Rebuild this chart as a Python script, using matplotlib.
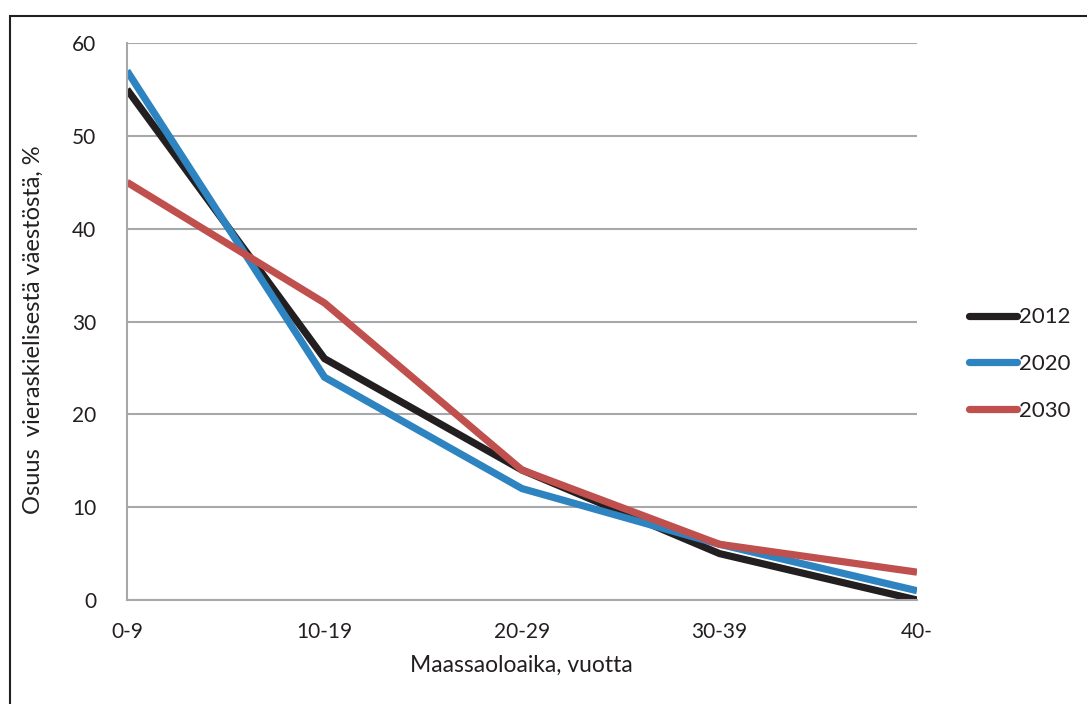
import matplotlib.pyplot as plt
from matplotlib.patches import Rectangle

# data
categories = ["0-9", "10-19", "20-29", "30-39", "40-"]
y2012 = [55, 26, 14, 5, 0]
y2020 = [57, 24, 12, 6, 1]
y2030 = [45, 32, 14, 6, 3]

plt.rcParams['font.family'] = ['Lato', 'DejaVu Sans']
txt = '#231f20'
grid = '#a6a8ab'

fig = plt.figure(figsize=(10.87, 7.04), dpi=100)
ax = fig.add_axes([127/1087, 1 - 600/704, 790/1087, 557/704])

x = list(range(len(categories)))
ax.plot(x, y2012, color='#231f20', lw=5.2, label='2012', solid_capstyle='butt', solid_joinstyle='miter')
ax.plot(x, y2020, color='#2e84c0', lw=5.2, label='2020', solid_capstyle='butt', solid_joinstyle='miter')
ax.plot(x, y2030, color='#c0504d', lw=5.2, label='2030', solid_capstyle='butt', solid_joinstyle='miter')

ax.set_xlim(0, 4)
ax.set_ylim(0, 60)
ax.set_yticks(range(0, 61, 10))
ax.set_xticks(x)
ax.set_xticklabels(categories)
ax.yaxis.grid(True, color=grid, lw=1.5)
ax.set_axisbelow(True)
for s in ['top', 'right']:
    ax.spines[s].set_visible(False)
for s in ['left', 'bottom']:
    ax.spines[s].set_color(grid)
    ax.spines[s].set_linewidth(1.5)
ax.tick_params(length=0, labelsize=15, colors=txt)
ax.tick_params(axis='x', pad=16)
ax.tick_params(axis='y', pad=22)

ax.set_xlabel("Maassaoloaika, vuotta", fontsize=16.5, color=txt)
ax.set_ylabel("Osuus  vieraskielisestä väestöstä, %", fontsize=17, color=txt)
ax.xaxis.set_label_coords((521 - 127) / 790, -(665 - 600) / 557)
ax.yaxis.set_label_coords(-(127 - 33) / 790, (600 - 330) / 557)
ax.xaxis.label.set_va('center')
ax.yaxis.label.set_va('center')

leg = ax.legend(loc='center left', bbox_to_anchor=(1.04, (600 - 364) / 557), frameon=False,
                fontsize=16, handlelength=2.2, handletextpad=0.05, labelspacing=1.2)
for h in leg.get_lines():
    h.set_solid_capstyle('round')
for t in leg.get_texts():
    t.set_color(txt)

fig.patches.append(Rectangle((10/1087, -0.01), 1.05, 1 - 16/704 + 0.01, transform=fig.transFigure,
                             fill=False, edgecolor='#231f20', lw=1.5))

fig.savefig('out.png', dpi=100)
